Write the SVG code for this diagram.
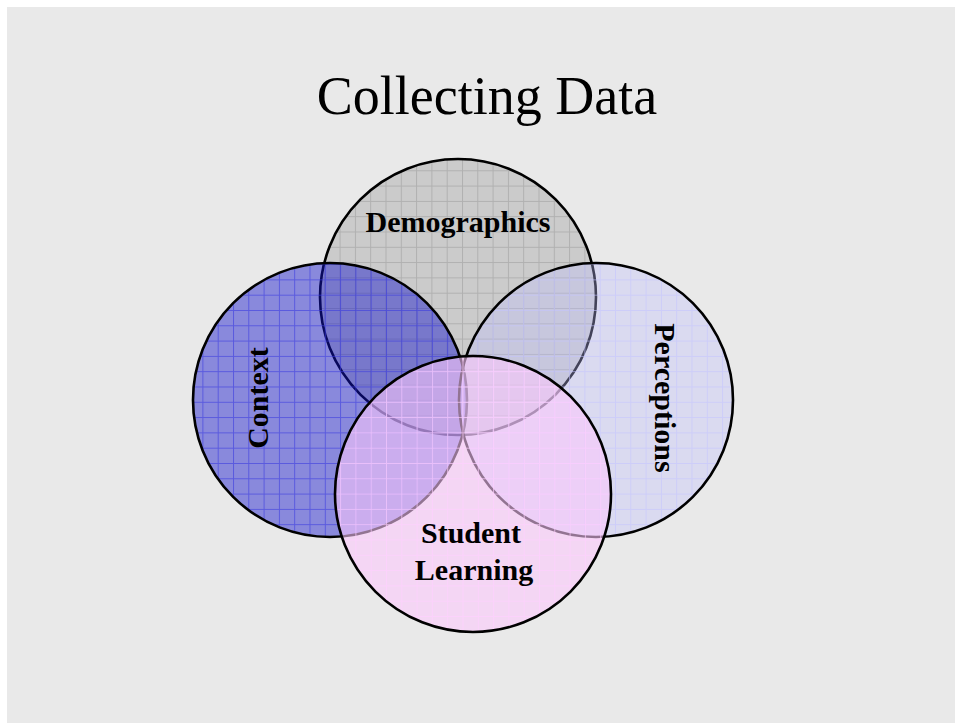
<svg xmlns="http://www.w3.org/2000/svg" width="955" height="724" viewBox="0 0 955 724">
<defs>
<style>
.lbl{font-family:"Liberation Serif","Times New Roman",serif;font-weight:bold;font-size:30px;fill:#000;text-anchor:middle}
.title{font-family:"Liberation Serif","Times New Roman",serif;font-size:54px;fill:#000;text-anchor:middle}
.ring{fill:none;stroke:#000;stroke-width:2.6}
</style>
<pattern id="gDemo" patternUnits="userSpaceOnUse" x="3" y="2" width="15.3" height="15.3">
<path d="M0 0.5H15.3M0.5 0V15.3" stroke="#b0b0b0" stroke-width="1" fill="none"/>
</pattern>
<pattern id="gCtx" patternUnits="userSpaceOnUse" x="3.5" y="4" width="15.3" height="15.3">
<path d="M0 0.5H15.3M0.5 0V15.3" stroke="#3a3ae0" stroke-width="1" fill="none"/>
</pattern>
<pattern id="gPer" patternUnits="userSpaceOnUse" x="3" y="4" width="15.3" height="15.3">
<path d="M0 0.5H15.3M0.5 0V15.3" stroke="#c4c4ff" stroke-width="1" fill="none"/>
</pattern>
<pattern id="gStu" patternUnits="userSpaceOnUse" x="3.5" y="4" width="15.3" height="15.3">
<path d="M0 0.5H15.3M0.5 0V15.3" stroke="#ffd0ff" stroke-width="1" fill="none"/>
</pattern>
</defs>
<rect x="0" y="0" width="955" height="724" fill="#ffffff"/>
<rect x="7" y="7" width="948" height="716" fill="#e9e9e9"/>
<text class="title" x="487" y="114">Collecting Data</text>
<g id="demographics">
<circle cx="458" cy="297" r="138" fill="#cbcbcb"/>
<circle cx="458" cy="297" r="138" fill="url(#gDemo)"/>
<circle class="ring" cx="458" cy="297" r="138"/>
<text class="lbl" x="458" y="232">Demographics</text>
</g>
<g id="context">
<g opacity="0.45">
<circle cx="330" cy="400" r="137" fill="#1414cc"/>
</g>
<circle cx="330" cy="400" r="137" fill="url(#gCtx)" opacity="0.6"/>
<circle class="ring" cx="330" cy="400" r="137"/>
<text class="lbl" transform="translate(268 398) rotate(-90)">Context</text>
</g>
<g id="perceptions">
<circle cx="596" cy="400" r="137" fill="#c0c0ff" opacity="0.35"/>
<circle cx="596" cy="400" r="137" fill="url(#gPer)" opacity="0.6"/>
<circle class="ring" cx="596" cy="400" r="137"/>
<text class="lbl" transform="translate(655 398) rotate(90)">Perceptions</text>
</g>
<g id="student-learning">
<circle cx="473" cy="494" r="138" fill="#fbc8fb" opacity="0.58"/>
<circle cx="473" cy="494" r="138" fill="url(#gStu)" opacity="0.7"/>
<circle class="ring" cx="473" cy="494" r="138" stroke-opacity="1"/>
<text class="lbl" x="471" y="543">Student</text>
<text class="lbl" x="474" y="580">Learning</text>
</g>
<g id="connectors"/>
</svg>
